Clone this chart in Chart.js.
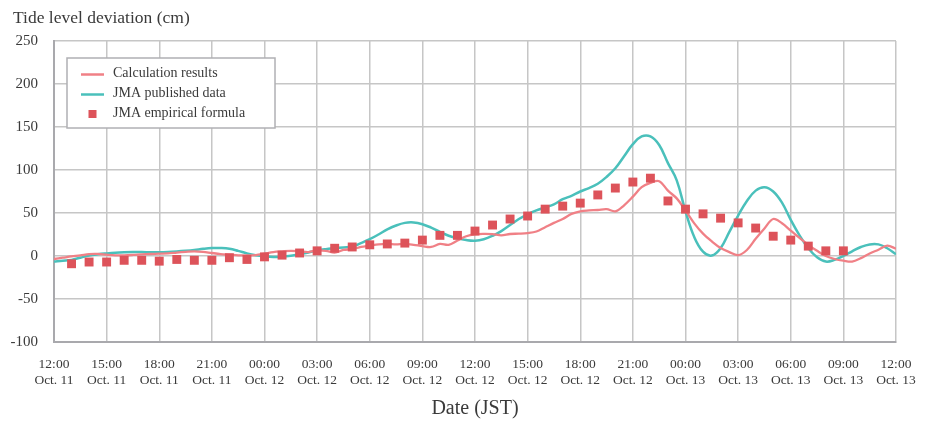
<!DOCTYPE html>
<html>
<head>
<meta charset="utf-8">
<script src="https://cdn.jsdelivr.net/npm/chart.js@4.4.1/dist/chart.umd.min.js"></script>
<style>
  html, body { margin: 0; padding: 0; background: #ffffff; }
  #wrap { width: 933px; height: 421px; position: relative; }
</style>
</head>
<body>
<div id="wrap"><canvas id="tide"></canvas></div>
<script>
// Hours elapsed since 12:00 Oct. 11 (JST); tick every 3 hours
const timeLabels = ['12:00','15:00','18:00','21:00','00:00','03:00','06:00','09:00','12:00',
                    '15:00','18:00','21:00','00:00','03:00','06:00','09:00','12:00'];
const dateLabels = ['Oct. 11','Oct. 11','Oct. 11','Oct. 11','Oct. 12','Oct. 12','Oct. 12','Oct. 12','Oct. 12',
                    'Oct. 12','Oct. 12','Oct. 12','Oct. 13','Oct. 13','Oct. 13','Oct. 13','Oct. 13'];

// Calculation results, every 30 minutes from 12:00 Oct. 11 (cm)
const calcResults = [
  -3.5, -2, -0.5, 0.7, 2.3, 2.5, 1.5, 0.8, 0.8, 1.2,
  1.8, 2.3, 2.7, 3, 4, 4.8, 5.4, 4.8, 3.5, 2.3,
  1.5, 0.7, 0.7, 1, 2.7, 4.5, 5.4, 6, 5.5, 4.6,
  6.5, 6, 4, 7, 8, 10.5, 12, 13.5, 14, 13.5,
  14, 13, 11.5, 10.5, 14, 13, 18, 23, 25.3, 25.8,
  25.5, 24, 25.6, 26, 26.7, 28.5, 33.5, 38.5, 43, 49,
  52, 53, 53.5, 54.5, 52, 59, 69, 80, 85, 87,
  76, 67, 53, 38, 26, 17, 9.3, 4.5, 1, 7,
  20, 32, 43, 38, 29.5, 21, 13, 6, 0, -3.5,
  -5.5, -6.5, -2.5, 3, 7.3, 12, 8.5
];

// JMA published data, every 30 minutes from 12:00 Oct. 11 (cm)
const jmaPublished = [
  -6.3, -5.5, -4.5, -2, 0.5, 2, 3, 3.8, 4.3, 4.6,
  4.6, 4.4, 4.3, 4.6, 5.2, 6, 7, 8.3, 9.2, 9.3,
  8.5, 6, 3, 0.8, -0.5, -1.2, -0.8, 0.3, 2, 4,
  6.5, 8, 9, 10, 11, 15, 19.5, 25, 31, 35.5,
  38.5, 39, 37, 33, 28, 23.5, 20.5, 18.5, 17.8, 19.5,
  23.5, 29, 36, 43, 48.5, 53, 56.5, 60, 66, 70,
  75, 79, 84, 92, 102, 116, 130, 139, 139, 129,
  108, 88, 52, 22, 5, 0.5, 9, 28, 47, 64,
  76, 80, 75, 62, 42, 24, 9, -1.5, -6.5, -4.5,
  0, 5.5, 10.5, 13.5, 13.5, 9, 2
];

// JMA empirical formula, hourly from 13:00 Oct. 11 to 09:00 Oct. 13 (cm)
const jmaEmpirical = [
  -9, -7, -7, -5, -5, -6, -4, -5, -5, -2,
  -4, -1, 1, 3.5, 6, 9, 10.5, 13, 14, 15,
  18.5, 24, 24, 29, 36, 43, 46.5, 54.5, 58, 61.5,
  71, 79, 86, 90.5, 64, 54.5, 49, 44, 38.5, 32.5,
  23, 18.5, 11.5, 6, 6
];
const empiricalStartHour = 1;

const seriesNames = ['Calculation results', 'JMA published data', 'JMA empirical formula'];
const yAxisTitle = 'Tide level deviation (cm)';
const xAxisTitle = 'Date (JST)';
const COLOR_CALC = 'rgb(240,128,134)';
const COLOR_PUB = 'rgb(74,192,187)';
const COLOR_EMP = 'rgb(221,83,90)';
const FONT = '"Liberation Serif", "DejaVu Serif", serif';
const TEXT = '#3a3a3a';

const halfHourly = arr => arr.map((v, i) => ({ x: i * 0.5, y: v }));
const hourly = (arr, start) => arr.map((v, i) => ({ x: start + i, y: v }));

// Horizontal y-axis caption above the plot's top-left corner
const yCaption = {
  id: 'yCaption',
  afterDraw(chart) {
    const { ctx, chartArea } = chart;
    ctx.save();
    ctx.font = '17.5px ' + FONT;
    ctx.fillStyle = TEXT;
    ctx.textAlign = 'left';
    ctx.textBaseline = 'middle';
    ctx.fillText(yAxisTitle, chartArea.left - 41, chartArea.top - 23);
    ctx.restore();
  }
};

// Legend box drawn inside the plot, top-left
const insetLegend = {
  id: 'insetLegend',
  afterDatasetsDraw(chart) {
    const { ctx, chartArea } = chart;
    const x0 = chartArea.left + 13, y0 = chartArea.top + 17;
    const w = 208, h = 70;
    ctx.save();
    ctx.fillStyle = '#ffffff';
    ctx.fillRect(x0, y0, w, h);
    ctx.strokeStyle = '#b0b0b4';
    ctx.lineWidth = 1.5;
    ctx.strokeRect(x0, y0, w, h);
    ctx.font = '14px ' + FONT;
    ctx.textBaseline = 'middle';
    const rows = [
      { label: seriesNames[0], kind: 'line', color: COLOR_CALC },
      { label: seriesNames[1], kind: 'line', color: COLOR_PUB },
      { label: seriesNames[2], kind: 'rect', color: COLOR_EMP }
    ];
    rows.forEach((r, i) => {
      const cy = y0 + 15 + i * 20;
      if (r.kind === 'line') {
        ctx.strokeStyle = r.color;
        ctx.lineWidth = 2.5;
        ctx.beginPath();
        ctx.moveTo(x0 + 14, cy + 1.5);
        ctx.lineTo(x0 + 37, cy + 1.5);
        ctx.stroke();
      } else {
        ctx.fillStyle = r.color;
        ctx.fillRect(x0 + 21.5, cy - 3, 8, 8);
      }
      ctx.fillStyle = TEXT;
      ctx.fillText(r.label, x0 + 46, cy);
    });
    ctx.restore();
  }
};

new Chart(document.getElementById('tide'), {
  type: 'line',
  data: {
    datasets: [
      {
        label: seriesNames[2],
        data: hourly(jmaEmpirical, empiricalStartHour),
        showLine: false,
        pointStyle: 'rect',
        pointRadius: 6.3,
        pointHoverRadius: 6.3,
        pointBackgroundColor: COLOR_EMP,
        pointBorderWidth: 0,
        borderColor: COLOR_EMP,
        order: 0
      },
      {
        label: seriesNames[0],
        data: halfHourly(calcResults),
        borderColor: COLOR_CALC,
        borderWidth: 2.3,
        pointRadius: 0,
        tension: 0.35,
        fill: false,
        order: 1
      },
      {
        label: seriesNames[1],
        data: halfHourly(jmaPublished),
        borderColor: COLOR_PUB,
        borderWidth: 2.5,
        pointRadius: 0,
        tension: 0.4,
        fill: false,
        order: 2
      }
    ]
  },
  options: {
    responsive: true,
    maintainAspectRatio: false,
    animation: false,
    layout: { padding: { left: 0, right: 37, top: 41, bottom: 0 } },
    plugins: {
      legend: { display: false },
      tooltip: { enabled: false },
      title: { display: false }
    },
    scales: {
      x: {
        type: 'linear',
        min: 0,
        max: 48,
        afterFit: s => { s.height = 79; },
        ticks: {
          stepSize: 3,
          autoSkip: false,
          maxRotation: 0,
          padding: 14,
          color: TEXT,
          font: { family: FONT, size: 13.5, lineHeight: 1.2 },
          callback: v => {
            const i = Math.round(v / 3);
            return [timeLabels[i], dateLabels[i]];
          }
        },
        grid: { color: '#c6c6c6', lineWidth: 1.5, drawTicks: false },
        border: { color: '#a9a9ad', width: 2 },
        title: {
          display: true,
          text: xAxisTitle,
          color: TEXT,
          font: { family: FONT, size: 20 },
          padding: { top: 4, bottom: 0 }
        }
      },
      y: {
        min: -100,
        max: 250,
        afterFit: s => { s.width = 54; },
        ticks: {
          stepSize: 50,
          padding: 16,
          color: TEXT,
          font: { family: FONT, size: 15 }
        },
        grid: { color: '#c6c6c6', lineWidth: 1.5, drawTicks: false },
        border: { color: '#a9a9ad', width: 2 }
      }
    }
  },
  plugins: [insetLegend, yCaption]
});
</script>
</body>
</html>
